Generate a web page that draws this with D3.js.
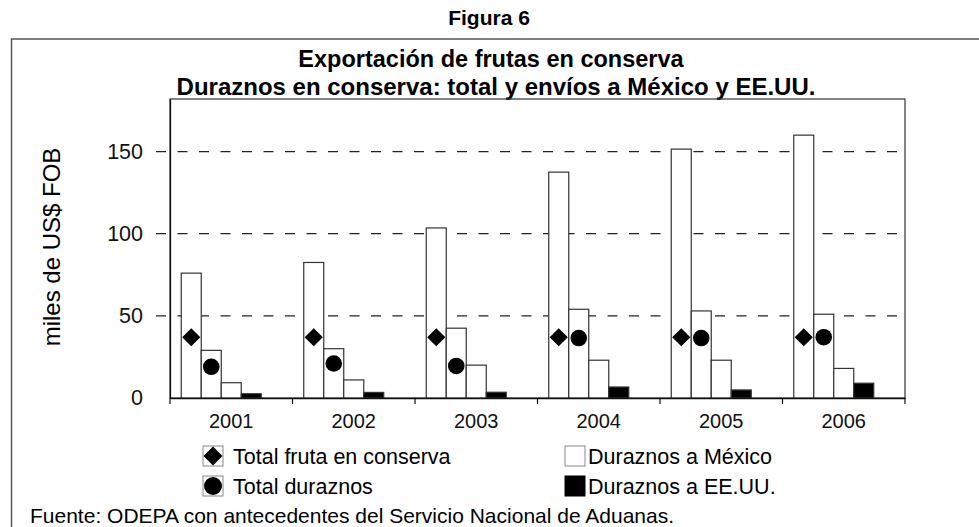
<!DOCTYPE html>
<html>
<head>
<meta charset="utf-8">
<script src="https://cdn.jsdelivr.net/npm/d3@7"></script>
<style>
  body { margin: 0; background: #fff; }
  svg { display: block; font-family: "Liberation Sans", Arial, sans-serif; }
</style>
</head>
<body>
<div id="chart"></div>
<script>
// data (miles de US$ FOB)
const years = ["2001", "2002", "2003", "2004", "2005", "2006"];
const barTall = [76, 82.5, 103.5, 137.5, 151.5, 160];
const barMid = [29, 30, 42.5, 54, 53, 51];
const barLow = [9.3, 11, 20, 23, 23, 18];
const barEEUU = [2.6, 3.4, 3.5, 6.7, 4.9, 9];
const diamondVals = [37, 37, 37, 37, 37, 37];
const circleVals = [19, 21, 19.5, 36.5, 36.5, 37];
const yTicks = [0, 50, 100, 150];

const W = 979, H = 527;
const plot = {left: 170, right: 905, top: 99, bottom: 398};

const svg = d3.select("#chart").append("svg")
	.attr("width", W).attr("height", H);

// headings and frame
svg.append("text").attr("x", 489).attr("y", 25)
	.attr("text-anchor", "middle").attr("font-weight", "bold").attr("font-size", 21)
	.text("Figura 6");

svg.append("path")
	.attr("d", "M979,39 H11.5 V527")
	.attr("fill", "none").attr("stroke", "#555").attr("stroke-width", 1.5);

svg.append("text").attr("x", 491).attr("y", 67)
	.attr("text-anchor", "middle").attr("font-weight", "bold").attr("font-size", 23.5)
	.text("Exportación de frutas en conserva");
svg.append("text").attr("x", 496).attr("y", 95)
	.attr("text-anchor", "middle").attr("font-weight", "bold").attr("font-size", 24)
	.text("Duraznos en conserva: total y envíos a México y EE.UU.");

// scales
const x0 = d3.scaleBand().domain(years).range([plot.left, plot.right]).padding(0);
const slots = ["a", "b", "c", "d", "e"];
const gap = x0.bandwidth() * 11.25 / 122.5;
const x1 = d3.scaleBand().domain(slots).range([gap, x0.bandwidth() - gap]).padding(0);
const y = d3.scaleLinear().domain([0, 182]).range([plot.bottom, plot.top]);

// plot frame
svg.append("rect")
	.attr("x", plot.left).attr("y", plot.top)
	.attr("width", plot.right - plot.left).attr("height", plot.bottom - plot.top)
	.attr("fill", "none").attr("stroke", "#333").attr("stroke-width", 1.2);

// gridlines
svg.append("g").selectAll("line").data(yTicks.filter(d => d > 0)).join("line")
	.attr("x1", plot.left - 14).attr("x2", plot.right)
	.attr("y1", d => y(d)).attr("y2", d => y(d))
	.attr("stroke", "#222").attr("stroke-width", 1.2)
	.attr("stroke-dasharray", "10,11.5");

// y axis
const yAxis = svg.append("g")
	.attr("transform", `translate(${plot.left},0)`)
	.call(d3.axisLeft(y).tickValues(yTicks).tickSize(0).tickPadding(27));
yAxis.select(".domain").attr("stroke", "#111").attr("stroke-width", 1.3);
yAxis.selectAll("text").attr("font-size", 21.5).attr("fill", "#111")
	.attr("font-family", "Liberation Sans, Arial, sans-serif");

svg.append("text")
	.attr("transform", "translate(60,247) rotate(-90)")
	.attr("text-anchor", "middle").attr("font-size", 24)
	.text("miles de US$ FOB");

// bars
const barSeries = [
	{slot: "a", values: barTall, fill: "#fff"},
	{slot: "b", values: barMid, fill: "#fff"},
	{slot: "c", values: barLow, fill: "#fff"},
	{slot: "d", values: barEEUU, fill: "#000"}
];
const groups = svg.append("g").selectAll("g").data(years).join("g")
	.attr("transform", d => `translate(${x0(d)},0)`);

groups.selectAll("rect")
	.data((d, i) => barSeries.map(s => ({slot: s.slot, v: s.values[i], fill: s.fill})))
	.join("rect")
	.attr("x", d => x1(d.slot)).attr("width", x1.bandwidth())
	.attr("y", d => y(d.v)).attr("height", d => y(0) - y(d.v))
	.attr("fill", d => d.fill).attr("stroke", "#333").attr("stroke-width", 1.2);

// markers
const diamond = d3.symbol().type(d3.symbolSquare).size(165);
groups.append("path")
	.attr("d", diamond())
	.attr("transform", (d, i) => `translate(${x1("a") + x1.bandwidth() / 2},${y(diamondVals[i])}) rotate(45)`)
	.attr("fill", "#000");
groups.append("circle")
	.attr("cx", x1("b") + x1.bandwidth() / 2)
	.attr("cy", (d, i) => y(circleVals[i]))
	.attr("r", 8.3).attr("fill", "#000");

// x axis
const xAxis = svg.append("g")
	.attr("transform", `translate(0,${plot.bottom})`)
	.call(d3.axisBottom(x0).tickSize(0).tickPadding(16));
xAxis.select(".domain").attr("stroke", "#111").attr("stroke-width", 1.3);
xAxis.selectAll("text").attr("font-size", 20).attr("fill", "#111")
	.attr("font-family", "Liberation Sans, Arial, sans-serif");
svg.append("g").selectAll("line")
	.data(years.map(d => x0(d)).concat([plot.right]))
	.join("line")
	.attr("x1", d => d).attr("x2", d => d)
	.attr("y1", plot.bottom).attr("y2", plot.bottom + 6)
	.attr("stroke", "#111").attr("stroke-width", 1.2);

// legend
const legendItems = [
	{label: "Total fruta en conserva", kind: "diamond", x: 203, y: 446},
	{label: "Duraznos a México", kind: "white", x: 565, y: 446},
	{label: "Total duraznos", kind: "circle", x: 203, y: 476},
	{label: "Duraznos a EE.UU.", kind: "black", x: 565, y: 476}
];
const lg = svg.append("g").selectAll("g").data(legendItems).join("g")
	.attr("transform", d => `translate(${d.x},${d.y})`);
lg.append("rect")
	.attr("width", 20).attr("height", 20)
	.attr("fill", d => d.kind === "black" ? "#000" : "#fff")
	.attr("stroke", d => d.kind === "black" ? "#000" : "#888").attr("stroke-width", 1);
lg.filter(d => d.kind === "diamond").append("path")
	.attr("d", d3.symbol().type(d3.symbolSquare).size(180)())
	.attr("transform", "translate(10,10) rotate(45)").attr("fill", "#000");
lg.filter(d => d.kind === "circle").append("circle")
	.attr("cx", 10).attr("cy", 10).attr("r", 9).attr("fill", "#000");
lg.append("text")
	.attr("x", d => d.kind === "diamond" || d.kind === "circle" ? 30 : 23)
	.attr("y", 18).attr("font-size", 21.5)
	.text(d => d.label);

// source
svg.append("text").attr("x", 30).attr("y", 523).attr("font-size", 21)
	.text("Fuente: ODEPA con antecedentes del Servicio Nacional de Aduanas.");
</script>
</body>
</html>
